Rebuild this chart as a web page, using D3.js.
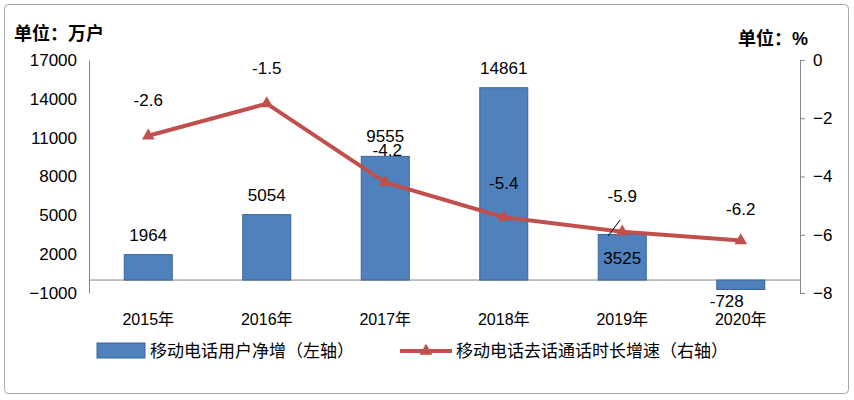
<!DOCTYPE html>
<html><head><meta charset="utf-8">
<script src="https://cdn.jsdelivr.net/npm/d3@7"></script>
<style>body{margin:0;background:#fff}text{font-family:"Liberation Sans",Arial,"Noto Sans CJK SC",sans-serif}</style>
</head><body><svg id="c" width="854" height="400"></svg>
<script>
const categories=["2015年","2016年","2017年","2018年","2019年","2020年"];
const netAdds=[1964,5054,9555,14861,3525,-728];
const growth=[-2.6,-1.5,-4.2,-5.4,-5.9,-6.2];
const leftTicks=[-1000,2000,5000,8000,11000,14000,17000];
const rightTicks=[0,-2,-4,-6,-8];
const svg=d3.select("#c");
svg.append("rect").attr("x",4.5).attr("y",4.5).attr("width",844).attr("height",389).attr("rx",4).attr("fill","#fff").attr("stroke","#a6a6a6");
const x=d3.scaleBand().domain(categories).range([89,800]);
const yL=d3.scaleLinear().domain([-1000,17000]).range([293,60]);
const yR=d3.scaleLinear().domain([-8,0]).range([293,60]);
const cj='"Noto Sans CJK SC",sans-serif';
const gl=svg.append("g").attr("transform","translate(89,0)").call(d3.axisLeft(yL).tickValues(leftTicks).tickSize(0).tickPadding(12).tickFormat(d3.format("d")));
const gr=svg.append("g").attr("transform","translate(800,0)").call(d3.axisRight(yR).tickValues(rightTicks).tickSize(5).tickPadding(8));
[gl,gr].forEach(g=>{g.select(".domain").attr("stroke","#868686");g.selectAll("line").attr("stroke","#868686");g.selectAll("text").attr("font-size",17).attr("fill","#000");});
const gx=svg.append("g").attr("transform","translate(0,293)").call(d3.axisBottom(x).tickSize(0).tickPadding(21));
gx.select(".domain").remove();
gx.selectAll("text").attr("font-size",16).attr("fill","#000").attr("font-family",cj);
svg.append("line").attr("x1",89).attr("x2",800).attr("y1",yL(0)).attr("y2",yL(0)).attr("stroke","#868686");
const bw=48;
svg.selectAll(".bar").data(netAdds).join("rect").attr("x",(d,i)=>x(categories[i])+x.bandwidth()/2-bw/2)
 .attr("y",d=>yL(Math.max(d,0))).attr("width",bw).attr("height",d=>Math.abs(yL(d)-yL(0)))
 .attr("fill","#4f81bd").attr("stroke","#3a6595");
svg.selectAll(".bl").data(netAdds).join("text").attr("text-anchor","middle").attr("font-size",17)
 .attr("x",(d,i)=>x(categories[i])+x.bandwidth()/2+(d<0?-14:0))
 .attr("y",(d,i)=>i==4?yL(d)+30:(d<0?yL(d)+18:yL(d)-14)).text(d=>d);
const cx=(d,i)=>x(categories[i])+x.bandwidth()/2;
svg.append("path").datum(growth).attr("fill","none").attr("stroke","#c0504d").attr("stroke-width",4)
 .attr("d",d3.line().x(cx).y(d=>yR(d)));
svg.selectAll(".tri").data(growth).join("path").attr("d",d3.symbol(d3.symbolTriangle,70))
 .attr("transform",(d,i)=>`translate(${cx(d,i)},${yR(d)})`).attr("fill","#c0504d");
const lo=[-30,-30,-28,-28,-30,-26];
svg.selectAll(".ll").data(growth).join("text").attr("text-anchor","middle").attr("font-size",17)
 .attr("x",(d,i)=>cx(d,i)+(i==2?2:0)).attr("y",(d,i)=>yR(d)+lo[i]+(i==2?2:0)).text(d=>d);
svg.append("line").attr("x1",cx(0,4)-2).attr("y1",yR(-5.9)-12).attr("x2",cx(0,4)-14).attr("y2",yR(-5.9)+4).attr("stroke","#000");
svg.append("text").attr("x",14).attr("y",40).attr("font-size",18).attr("font-weight","bold").attr("font-family",cj).text("单位：万户");
svg.append("text").attr("x",738).attr("y",45).attr("font-size",18).attr("font-weight","bold").attr("font-family",cj).text("单位：%");
svg.append("rect").attr("x",97).attr("y",343).attr("width",48).attr("height",15).attr("fill","#4f81bd").attr("stroke","#3a6595");
svg.append("text").attr("x",150).attr("y",357).attr("font-size",17).attr("font-family",cj).text("移动电话用户净增（左轴）");
svg.append("line").attr("x1",400).attr("x2",452).attr("y1",351).attr("y2",351).attr("stroke","#c0504d").attr("stroke-width",4);
svg.append("path").attr("d",d3.symbol(d3.symbolTriangle,70)).attr("transform","translate(426,351)").attr("fill","#c0504d");
svg.append("text").attr("x",456).attr("y",357).attr("font-size",17).attr("font-family",cj).text("移动电话去话通话时长增速（右轴）");
</script></body></html>
